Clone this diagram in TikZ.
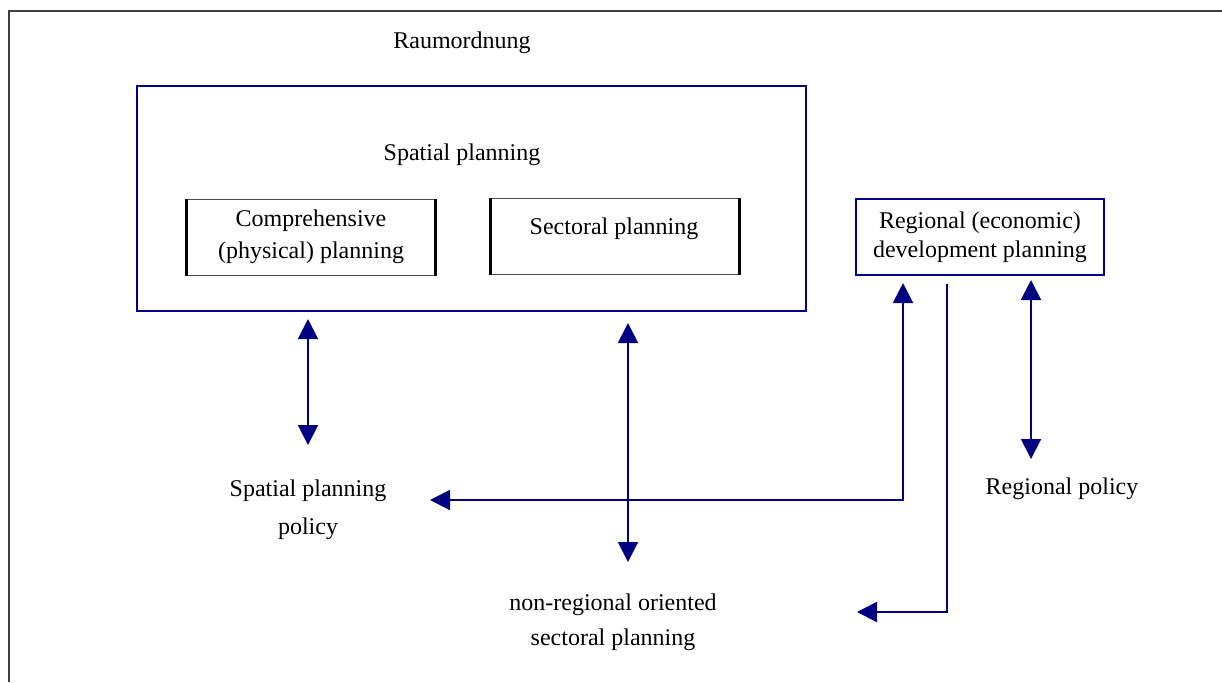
\documentclass[tikz,border=0pt]{standalone}
\usepackage{fontspec}
\setmainfont{Liberation Serif}
\usetikzlibrary{arrows.meta,calc}
\definecolor{navyline}{RGB}{0,0,128}
\begin{document}
\begin{tikzpicture}[x=0.5pt, y=-0.5pt, font=\fontsize{12}{16}\selectfont,
    >={Triangle[width=10pt,length=10pt]},
    navybox/.style={draw=navyline, line width=1pt, minimum width=124pt, minimum height=38pt, inner sep=0pt},
    greybox/.style={draw=black!70, line width=0.5pt, minimum width=124pt, minimum height=38pt, inner sep=0pt},
    link/.style={navyline, line width=1pt}]
    \useasboundingbox (0,0) rectangle (1222,682);
    \draw[black!75, line width=1pt] (9,682) -- (9,11) -- (1222,11);
    % boxes
    \node (raum) at (462,43) {Raumordnung};
    \node[navybox, minimum width=334.5pt, minimum height=112.5pt] (spatial) at (471.5,198.5) {};
    \node (spatlbl) at (462,155) {Spatial planning};
    \node[greybox, align=center] (comp) at (311,237) {Comprehensive\\(physical) planning};
    \node[greybox] (sect) at (615,236.5) {};
    \node (sectlbl) at (614,229) {Sectoral planning};
    \foreach \b in {comp,sect} {
        \draw[line width=1.2pt] (\b.north west) -- (\b.south west);
        \draw[line width=1.2pt] (\b.north east) -- (\b.south east);
    }
    \node[navybox, align=center, font=\fontsize{12}{14.5}\selectfont] (regional) at (980,237) {Regional (economic)\\development planning};
    % labels
    \node[align=center, font=\fontsize{12}{19}\selectfont] (sppol) at (308,510) {Spatial planning\\policy};
    \node[align=center, font=\fontsize{12}{17.5}\selectfont] (nonreg) at (613,622) {non-regional oriented\\sectoral planning};
    \node (regpol) at (1062,489) {Regional policy};
    % arrows
    \draw[link,<->] ($(spatial.south -| sppol)+(0,7)$) -- ($(sppol.center)+(0,-65)$);
    \draw[link,<->] ($(sect.center |- spatial.south)+(13,11)$) -- ($(nonreg.center)+(15,-60)$);
    \draw[link,<->] ($(regional.south)+(-77,7)$) |- ($(sppol.center)+(122,-10)$);
    \draw[link,->] ($(regional.south)+(-33,8)$) |- ($(nonreg.center)+(244,-10)$);
    \draw[link,<->] ($(regional.south)+(51,4)$) -- ($(regpol.center)+(-31,-30)$);
\end{tikzpicture}
\end{document}
